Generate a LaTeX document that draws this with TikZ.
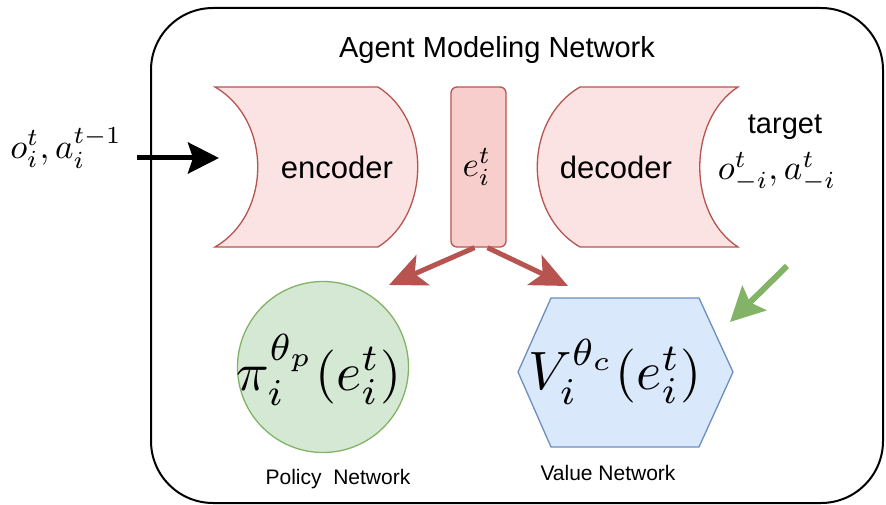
\documentclass[tikz,border=0pt]{standalone}
\usepackage{fontspec}
\setmainfont{Liberation Sans}
\usetikzlibrary{arrows.meta}
\definecolor{redline}{HTML}{B85450}
\definecolor{redfill}{HTML}{FAE3E2}
\definecolor{redbox}{HTML}{F8CECC}
\definecolor{greenline}{HTML}{82B366}
\definecolor{greenfill}{HTML}{D5E8D4}
\definecolor{blueline}{HTML}{6C8EBF}
\definecolor{bluefill}{HTML}{DAE8FC}
\newcommand{\fs}[1]{\fontsize{#1}{#1}\selectfont}
\tikzset{
  shapeline/.style={draw=redline, fill=redfill, line width=1.3pt},
  lbl/.style={inner sep=0pt, text=black},
  redarrow/.style={draw=redline, line width=5pt, -{Stealth[length=37pt, width=33pt, inset=9pt]}},
}
\begin{document}
\begin{tikzpicture}[x=1pt, y=-1pt]
\useasboundingbox (0,0) rectangle (886,505);
% outer frame
\draw[line width=2pt, rounded corners=62pt] (151,8) rectangle (883,503);
\node[lbl] (title) at (497,50) {\fs{29}Agent Modeling Network};
% encoder
\path[shapeline] (215,87) -- (378,87) .. controls (431,120) and (431,214) .. (378,247)
  -- (215,247) .. controls (272,214) and (272,120) .. (215,87) -- cycle;
\node[lbl] (enc) at (337,167) {\fs{31}encoder};
% decoder
\path[shapeline] (580,87) -- (738,87) .. controls (687,120) and (687,214) .. (738,247)
  -- (580,247) .. controls (523,214) and (523,120) .. (580,87) -- cycle;
\node[lbl] (dec) at (616,167) {\fs{31}decoder};
% embedding box
\node[draw=redline, fill=redbox, line width=1.3pt, rounded corners=6pt,
  minimum width=55pt, minimum height=160pt, inner sep=0pt] (e) at (478.5,167) {};
\node[lbl, scale=3.5] (etext) at (477,167) {$e_i^t$};
% target
\node[lbl] (tgt) at (785,127) {\fs{29}target};
\node[lbl, scale=3.5] (tgtm) at (777,172) {$o_{-i}^t, a_{-i}^t$};
% input
\node[lbl, scale=3.5] (inp) at (66,148) {$o_i^t, a_i^{t-1}$};
\coordinate (inS) at (137,158);
\coordinate (inE) at (219,158);
\draw[line width=5pt, -{Stealth[length=31pt, width=31pt, inset=5pt]}] (inS) -- (inE);
% policy
\node[circle, draw=greenline, fill=greenfill, line width=1.3pt, minimum size=171pt, inner sep=0pt]
  (pol) at (323,367) {};
\node[lbl, scale=5.4] (poltext) at (319,370) {$\pi_i^{\theta_p}(e_i^t)$};
\node[lbl] (polname) at (338,479) {\fs{21}Policy\ \ Network};
% value
\path[draw=blueline, fill=bluefill, line width=1.3pt]
  (518,372) -- (551,298) -- (699,298) -- (733,372) -- (699,447) -- (551,447) -- cycle;
\node[lbl, scale=5.4] (valtext) at (615,372) {$V_i^{\theta_c}(e_i^t)$};
\node[lbl] (valname) at (608,473) {\fs{21}Value Network};
% red arrows
\coordinate (pTip) at (389,285);
\coordinate (vTip) at (568,286);
\draw[redarrow] ([xshift=-4pt]e.south) -- (pTip);
\draw[redarrow] ([xshift=9pt]e.south) -- (vTip);
% green arrow
\coordinate (gS) at (787,266);
\coordinate (gE) at (730,322);
\draw[draw=greenline, line width=6pt, -{Stealth[length=34pt, width=34pt, inset=6pt]}] (gS) -- (gE);
\end{tikzpicture}
\end{document}
